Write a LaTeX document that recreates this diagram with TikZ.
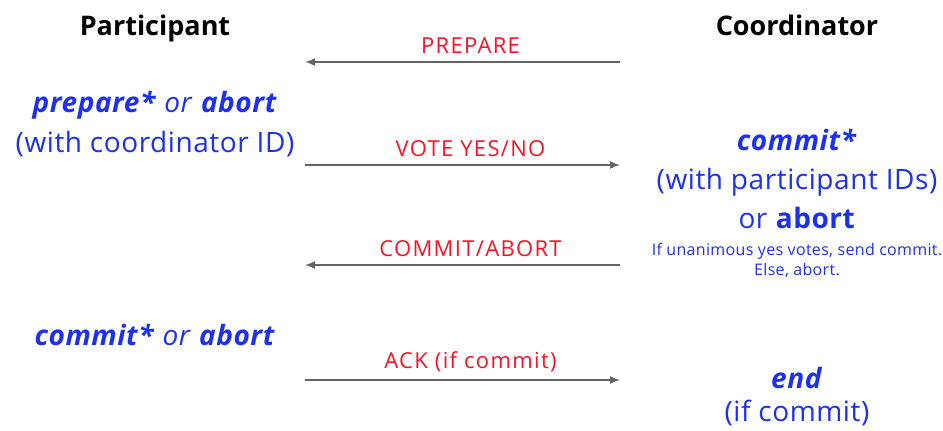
\documentclass[tikz,border=0pt]{standalone}
\usepackage{fontspec}
\setmainfont{Open Sans}
\usetikzlibrary{arrows.meta}
\definecolor{stepblue}{RGB}{28,48,242}
\definecolor{msgred}{RGB}{252,18,40}
\definecolor{arrowgray}{RGB}{100,100,100}
\newfontfamily\statefont{Open Sans}[LetterSpace=2]
\newfontfamily\msgfont{Open Sans}[LetterSpace=6]

\tikzset{
  head/.style={anchor=base, font=\fontsize{27}{30}\selectfont\bfseries, text=black},
  state/.style={anchor=base, font=\statefont\fontsize{28}{31}\selectfont, text=stepblue},
  note/.style={anchor=base, font=\statefont\fontsize{16}{19}\selectfont, text=stepblue},
  msg/.style={anchor=base, font=\msgfont\fontsize{22}{26}\selectfont, text=msgred, xshift=8pt},
  arr/.style={draw=arrowgray, line width=1.5pt, -{Latex[length=10pt,width=8pt]}}
}

\begin{document}
\begin{tikzpicture}[x=1pt,y=-1pt]
	\useasboundingbox (0,0) rectangle (943,431);
	
	% headings
	\node[head] (participant) at (155,35) {Participant};
	\node[head] (coordinator) at (797,35) {Coordinator};
	
	% participant side
	\node[state] (pprep) at (155,112) {\textbf{\textit{prepare*}} \textit{or} \textbf{\textit{abort}}};
	\node[state] (pprepid) at (155,152) {(with coordinator ID)};
	\node[state] (pcommit) at (155,345) {\textbf{\textit{commit*}} \textit{or} \textbf{\textit{abort}}};
	
	% coordinator side
	\node[state] (ccommit) at (797,150) {\textbf{\textit{commit*}}};
	\node[state] (ccommitid) at (797,189) {(with participant IDs)};
	\node[state] (cabort) at (797,228) {or \textbf{abort}};
	\node[note] (crule) at (797,255) {If unanimous yes votes, send commit.};
	\node[note] (celse) at (797,275) {Else, abort.};
	\node[state] (cend) at (797,388) {\textbf{\textit{end}}};
	\node[state] (cendif) at (797,421) {(if commit)};
	
	% message ends
	\coordinate (p1) at (305,62);  \coordinate (c1) at (620,62);
	\coordinate (p2) at (305,165); \coordinate (c2) at (620,165);
	\coordinate (p3) at (305,265); \coordinate (c3) at (620,265);
	\coordinate (p4) at (305,380); \coordinate (c4) at (620,380);
	
	% messages
	\draw[arr] (c1) -- (p1) node[msg, midway, above=4pt] (mprepare) {PREPARE};
	\draw[arr] (p2) -- (c2) node[msg, midway, above=4pt] (mvote) {VOTE YES/NO};
	\draw[arr] (c3) -- (p3) node[msg, midway, above=4pt] (mdecide) {COMMIT/ABORT};
	\draw[arr] (p4) -- (c4) node[msg, midway, above=4pt] (mack) {ACK (if commit)};
\end{tikzpicture}
\end{document}
